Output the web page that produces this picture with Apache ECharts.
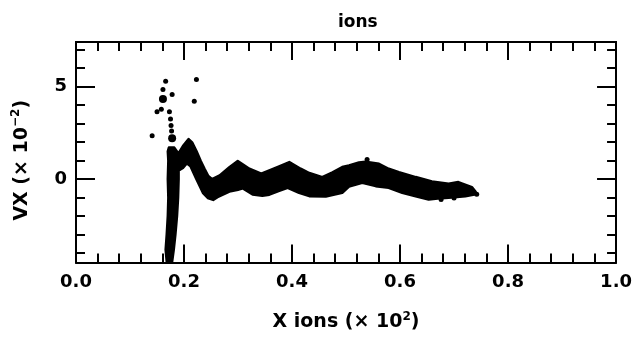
<!DOCTYPE html>
<html>
<head>
<meta charset="utf-8">
<script src="https://cdn.jsdelivr.net/npm/echarts@6/dist/echarts.min.js"></script>
<style>
  html, body { margin: 0; padding: 0; background: #fff; }
  #chart { width: 635px; height: 337px; }
</style>
</head>
<body>
<div id="chart"></div>
<script>
// phase space of the ions (x in 10^2, vx in 10^-2)
const xTicks = [0, 0.2, 0.4, 0.6, 0.8, 1.0];
const yMajorTicks = [0, 5];
const yMinorTicks = [-4, -3, -2, -1, 0, 1, 2, 3, 4, 5, 6, 7];

// upper and lower edge of the dense band
const bandUpper = [
  [0.185, 1.30], [0.192, 1.50], [0.198, 1.78], [0.2085, 2.16], [0.215, 1.98],
  [0.223, 1.52], [0.231, 0.98], [0.238, 0.56], [0.245, 0.17], [0.252, 0.00],
  [0.266, 0.20], [0.284, 0.64], [0.2995, 0.98], [0.310, 0.77], [0.321, 0.56],
  [0.343, 0.29], [0.358, 0.47], [0.375, 0.67], [0.395, 0.92], [0.416, 0.56],
  [0.432, 0.33], [0.456, 0.11], [0.475, 0.37], [0.493, 0.65], [0.5055, 0.74],
  [0.524, 0.90], [0.536, 0.94], [0.561, 0.83], [0.579, 0.56], [0.598, 0.38],
  [0.629, 0.11], [0.659, -0.13], [0.690, -0.25], [0.708, -0.16], [0.733, -0.43],
  [0.740, -0.68]
];
const bandLower = [
  [0.185, 0.60], [0.192, 0.50], [0.198, 0.60], [0.205, 0.85], [0.212, 0.70],
  [0.223, 0.00], [0.235, -0.74], [0.244, -1.02], [0.254, -1.12], [0.262, -0.97],
  [0.284, -0.67], [0.300, -0.57], [0.309, -0.50], [0.327, -0.83], [0.345, -0.90],
  [0.358, -0.84], [0.375, -0.64], [0.392, -0.47], [0.413, -0.74], [0.432, -0.92],
  [0.4625, -0.94], [0.493, -0.74], [0.5055, -0.40], [0.530, -0.20], [0.555, -0.38],
  [0.579, -0.47], [0.604, -0.74], [0.629, -0.92], [0.653, -1.10], [0.670, -1.04],
  [0.690, -1.01], [0.721, -0.92], [0.740, -0.82]
];

// the near-vertical column at x ~ 0.17
const columnLeft = [
  [0.168, -4.45], [0.166, -3.8], [0.168, -3.0], [0.170, -2.0], [0.171, -1.0],
  [0.170, 0.0], [0.171, 1.0], [0.170, 1.5], [0.172, 1.7]
];
const columnRight = [
  [0.182, 1.7], [0.188, 1.45], [0.190, 0.8], [0.190, 0.0], [0.189, -1.0],
  [0.187, -2.0], [0.184, -3.0], [0.181, -3.8], [0.178, -4.45]
];

// stray particles
const smallDots = [
  [0.166, 5.28], [0.161, 4.83], [0.178, 4.56], [0.219, 4.20], [0.223, 5.37],
  [0.150, 3.64], [0.158, 3.77], [0.173, 3.64], [0.175, 3.24], [0.176, 2.90],
  [0.177, 2.60], [0.141, 2.34], [0.539, 1.06], [0.742, -0.82], [0.700, -1.02],
  [0.676, -1.10], [0.725, -0.55]
];
const bigDots = [[0.161, 4.32], [0.178, 2.20]];

const bandPolygon = bandUpper.concat(bandLower.slice().reverse());
const columnPolygon = columnLeft.concat(columnRight);

const font = 'DejaVu Sans';
const black = '#000';

function polygonSeries(points) {
  return {
    type: 'custom',
    silent: true,
    clip: true,
    data: points,
    renderItem: function (params, api) {
      if (params.dataIndex !== 0) return;
      return {
        type: 'polygon',
        shape: { points: points.map(p => api.coord(p)) },
        style: { fill: black, stroke: black, lineWidth: 2.5, lineJoin: 'round' }
      };
    }
  };
}

function xAxisOf(pos, labels) {
  return {
    type: 'value',
    position: pos,
    min: 0,
    max: 1,
    interval: 0.2,
    axisLine: { show: true, onZero: false, lineStyle: { color: black, width: 2 } },
    axisTick: { show: true, inside: true, length: 18, lineStyle: { color: black, width: 2 } },
    minorTick: { show: true, splitNumber: 5, length: 9, lineStyle: { color: black, width: 2 } },
    axisLabel: {
      show: labels, margin: 11, color: black, fontFamily: font, fontWeight: 'bold', fontSize: 18,
      formatter: v => v.toFixed(1)
    },
    splitLine: { show: false },
    minorSplitLine: { show: false }
  };
}

function yAxisOf(pos, values, len, labels) {
  return {
    type: 'value',
    position: pos,
    min: -4.5,
    max: 7.4,
    axisLine: { show: true, onZero: false, lineStyle: { color: black, width: 2 } },
    axisTick: { show: true, inside: true, length: len, customValues: values, lineStyle: { color: black, width: 2 } },
    axisLabel: {
      show: labels, customValues: yMajorTicks, margin: 9, color: black,
      fontFamily: font, fontWeight: 'bold', fontSize: 18
    },
    splitLine: { show: false }
  };
}

const nameRich = {
  t: { fontFamily: font, fontWeight: 'bold', fontSize: 19, color: black, lineHeight: 24 },
  s: { fontFamily: font, fontWeight: 'bold', fontSize: 12, color: black, verticalAlign: 'top', lineHeight: 24 }
};

const xMain = xAxisOf('bottom', true);
xMain.name = '{t|X ions (× 10}{s|2}{t|)}';
xMain.nameLocation = 'middle';
xMain.nameGap = 48;
xMain.nameTextStyle = { rich: nameRich };

const yMain = yAxisOf('left', yMajorTicks, 19, true);
yMain.name = '{t|VX (× 10}{s|−2}{t|)}';
yMain.nameLocation = 'middle';
yMain.nameGap = 42;
yMain.nameTextStyle = { rich: nameRich, padding: [0, 16, 0, 0] };

const dotStyle = { color: black, opacity: 1 };

const chart = echarts.init(document.getElementById('chart'), null, { renderer: 'canvas' });
chart.setOption({
  backgroundColor: '#fff',
  animation: false,
  title: {
    text: 'ions',
    left: 333,
    top: 9,
    textStyle: { fontFamily: font, fontWeight: 'bold', fontSize: 17, color: black }
  },
  grid: { left: 76, right: 17, top: 42, bottom: 74 },
  xAxis: [xMain, xAxisOf('top', false)],
  yAxis: [
    yMain,
    yAxisOf('left', yMinorTicks, 9, false),
    yAxisOf('right', yMajorTicks, 19, false),
    yAxisOf('right', yMinorTicks, 9, false)
  ],
  series: [
    polygonSeries(bandPolygon),
    polygonSeries(columnPolygon),
    {
      type: 'scatter',
      data: smallDots,
      symbolSize: 5,
      itemStyle: dotStyle,
      silent: true
    },
    {
      type: 'scatter',
      data: bigDots,
      symbolSize: 8,
      itemStyle: dotStyle,
      silent: true
    }
  ]
});
</script>
</body>
</html>
